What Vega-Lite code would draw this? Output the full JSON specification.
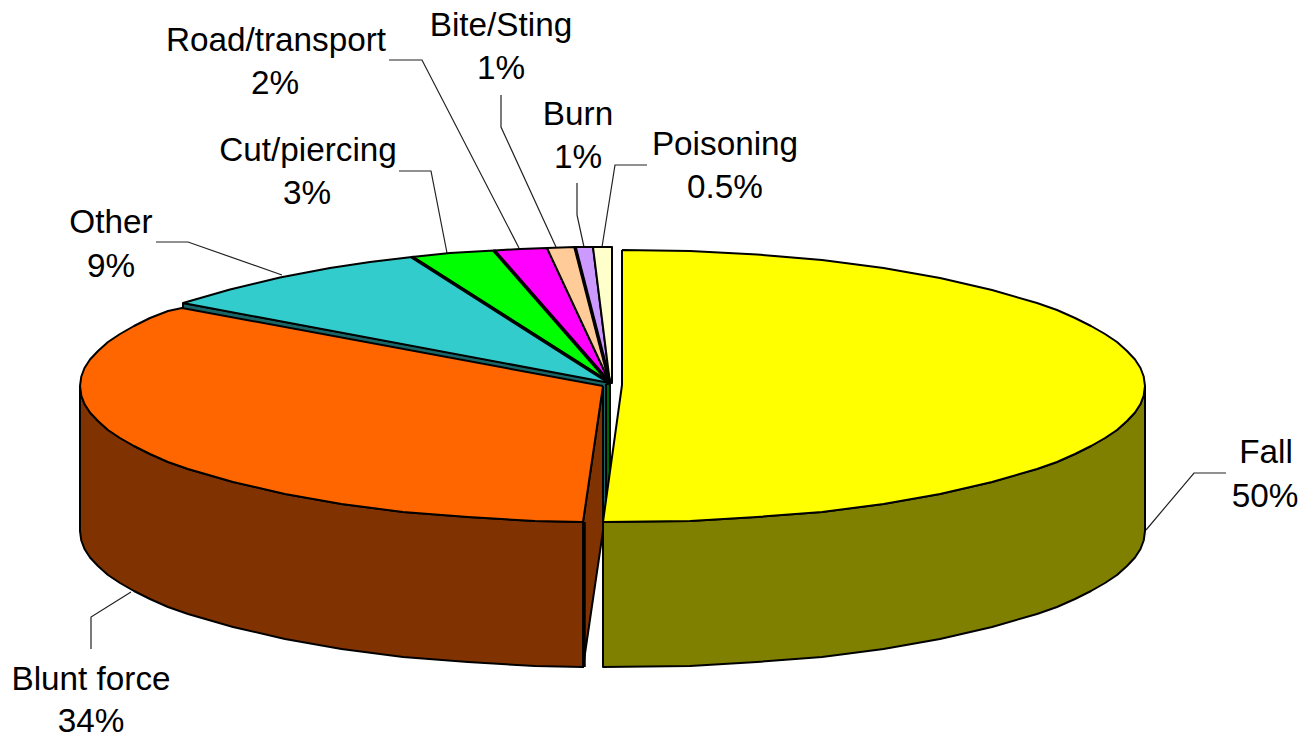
{"$schema":"https://vega.github.io/schema/vega-lite/v6.json","width":1301,"height":735,"padding":0,"autosize":{"type":"none"},"background":"white","view":{"stroke":null},
"datasets":{
"shapes":[
{"part":"teal wall","x":183,"y":303},{"part":"teal wall","x":608,"y":382},{"part":"teal wall","x":608,"y":527},{"part":"teal wall","x":183,"y":448},{"part":"teal wall","x":183,"y":303},
{"part":"green wall","x":606,"y":384},{"part":"green wall","x":610,"y":384},{"part":"green wall","x":610,"y":527},{"part":"green wall","x":606,"y":527},{"part":"green wall","x":606,"y":384},
{"part":"blunt wall","x":80,"y":386},{"part":"blunt wall","x":81.3,"y":395.5},{"part":"blunt wall","x":84.5,"y":404},{"part":"blunt wall","x":90,"y":412.5},{"part":"blunt wall","x":98,"y":421},{"part":"blunt wall","x":108,"y":430},{"part":"blunt wall","x":120,"y":438},{"part":"blunt wall","x":134,"y":446},{"part":"blunt wall","x":150,"y":454},{"part":"blunt wall","x":168,"y":462},{"part":"blunt wall","x":188,"y":469},{"part":"blunt wall","x":233,"y":482},{"part":"blunt wall","x":285,"y":494},{"part":"blunt wall","x":341.5,"y":504},{"part":"blunt wall","x":403,"y":512},{"part":"blunt wall","x":468,"y":517},{"part":"blunt wall","x":535,"y":521},{"part":"blunt wall","x":583,"y":522},{"part":"blunt wall","x":583,"y":667},{"part":"blunt wall","x":535,"y":666},{"part":"blunt wall","x":468,"y":662},{"part":"blunt wall","x":403,"y":657},{"part":"blunt wall","x":341.5,"y":649},{"part":"blunt wall","x":285,"y":639},{"part":"blunt wall","x":233,"y":627},{"part":"blunt wall","x":188,"y":614},{"part":"blunt wall","x":168,"y":607},{"part":"blunt wall","x":150,"y":599},{"part":"blunt wall","x":134,"y":591},{"part":"blunt wall","x":120,"y":583},{"part":"blunt wall","x":108,"y":575},{"part":"blunt wall","x":98,"y":566},{"part":"blunt wall","x":90,"y":557.5},{"part":"blunt wall","x":84.5,"y":549},{"part":"blunt wall","x":81.3,"y":540.5},{"part":"blunt wall","x":80,"y":531},{"part":"blunt wall","x":80,"y":386},
{"part":"blunt cut","x":603,"y":386},{"part":"blunt cut","x":583,"y":522},{"part":"blunt cut","x":583,"y":667},{"part":"blunt cut","x":603,"y":531},{"part":"blunt cut","x":603,"y":386},
{"part":"Blunt force","x":603,"y":386},{"part":"Blunt force","x":583,"y":522},{"part":"Blunt force","x":535,"y":521},{"part":"Blunt force","x":468,"y":517},{"part":"Blunt force","x":403,"y":512},{"part":"Blunt force","x":341.5,"y":504},{"part":"Blunt force","x":285,"y":494},{"part":"Blunt force","x":233,"y":482},{"part":"Blunt force","x":188,"y":469},{"part":"Blunt force","x":168,"y":462},{"part":"Blunt force","x":150,"y":454},{"part":"Blunt force","x":134,"y":446},{"part":"Blunt force","x":120,"y":438},{"part":"Blunt force","x":108,"y":430},{"part":"Blunt force","x":98,"y":421},{"part":"Blunt force","x":90,"y":412.5},{"part":"Blunt force","x":84.5,"y":404},{"part":"Blunt force","x":81.3,"y":395.5},{"part":"Blunt force","x":80,"y":386},{"part":"Blunt force","x":81.3,"y":376.5},{"part":"Blunt force","x":84.5,"y":368},{"part":"Blunt force","x":90,"y":359.5},{"part":"Blunt force","x":98,"y":351},{"part":"Blunt force","x":108,"y":342},{"part":"Blunt force","x":120,"y":334},{"part":"Blunt force","x":134,"y":326},{"part":"Blunt force","x":150,"y":318},{"part":"Blunt force","x":168,"y":311},{"part":"Blunt force","x":182,"y":308},{"part":"Blunt force","x":603,"y":386},
{"part":"Other","x":610,"y":383},{"part":"Other","x":183,"y":303},{"part":"Other","x":230,"y":289.5},{"part":"Other","x":280,"y":277.5},{"part":"Other","x":330,"y":268},{"part":"Other","x":370,"y":262},{"part":"Other","x":412,"y":257},{"part":"Other","x":610,"y":383},
{"part":"Cut/piercing","x":610,"y":383},{"part":"Cut/piercing","x":412,"y":257},{"part":"Cut/piercing","x":450,"y":253},{"part":"Cut/piercing","x":494,"y":250.5},{"part":"Cut/piercing","x":610,"y":383},
{"part":"Road/transport","x":610,"y":383},{"part":"Road/transport","x":494,"y":250.5},{"part":"Road/transport","x":520,"y":249},{"part":"Road/transport","x":547,"y":248},{"part":"Road/transport","x":610,"y":383},
{"part":"Bite/Sting","x":610,"y":383},{"part":"Bite/Sting","x":547,"y":248},{"part":"Bite/Sting","x":575,"y":247},{"part":"Bite/Sting","x":610,"y":383},
{"part":"Burn","x":610,"y":383},{"part":"Burn","x":575,"y":247},{"part":"Burn","x":593,"y":247},{"part":"Burn","x":610,"y":383},
{"part":"Poisoning","x":610,"y":383},{"part":"Poisoning","x":593,"y":247},{"part":"Poisoning","x":612,"y":247},{"part":"Poisoning","x":612,"y":383},{"part":"Poisoning","x":610,"y":383},
{"part":"fall wall","x":1145,"y":386},{"part":"fall wall","x":1143.7,"y":395.5},{"part":"fall wall","x":1140.5,"y":404},{"part":"fall wall","x":1135,"y":412.5},{"part":"fall wall","x":1127,"y":421},{"part":"fall wall","x":1117,"y":430},{"part":"fall wall","x":1105,"y":438},{"part":"fall wall","x":1091,"y":446},{"part":"fall wall","x":1075,"y":454},{"part":"fall wall","x":1057,"y":462},{"part":"fall wall","x":1037,"y":469},{"part":"fall wall","x":992,"y":482},{"part":"fall wall","x":940,"y":494},{"part":"fall wall","x":883.5,"y":504},{"part":"fall wall","x":822,"y":512},{"part":"fall wall","x":757,"y":517},{"part":"fall wall","x":690,"y":521},{"part":"fall wall","x":603,"y":522},{"part":"fall wall","x":603,"y":667},{"part":"fall wall","x":690,"y":666},{"part":"fall wall","x":757,"y":662},{"part":"fall wall","x":822,"y":657},{"part":"fall wall","x":883.5,"y":649},{"part":"fall wall","x":940,"y":639},{"part":"fall wall","x":992,"y":627},{"part":"fall wall","x":1037,"y":614},{"part":"fall wall","x":1057,"y":607},{"part":"fall wall","x":1075,"y":599},{"part":"fall wall","x":1091,"y":591},{"part":"fall wall","x":1105,"y":583},{"part":"fall wall","x":1117,"y":575},{"part":"fall wall","x":1127,"y":566},{"part":"fall wall","x":1135,"y":557.5},{"part":"fall wall","x":1140.5,"y":549},{"part":"fall wall","x":1143.7,"y":540.5},{"part":"fall wall","x":1145,"y":531},{"part":"fall wall","x":1145,"y":386},
{"part":"Fall","x":622,"y":250},{"part":"Fall","x":690,"y":251},{"part":"Fall","x":757,"y":254.5},{"part":"Fall","x":822,"y":260},{"part":"Fall","x":883.5,"y":268},{"part":"Fall","x":940,"y":278},{"part":"Fall","x":992,"y":290},{"part":"Fall","x":1037,"y":303},{"part":"Fall","x":1057,"y":310},{"part":"Fall","x":1075,"y":318},{"part":"Fall","x":1091,"y":326},{"part":"Fall","x":1105,"y":334},{"part":"Fall","x":1117,"y":342},{"part":"Fall","x":1127,"y":351},{"part":"Fall","x":1135,"y":359.5},{"part":"Fall","x":1140.5,"y":368},{"part":"Fall","x":1143.7,"y":376.5},{"part":"Fall","x":1145,"y":386},{"part":"Fall","x":1143.7,"y":395.5},{"part":"Fall","x":1140.5,"y":404},{"part":"Fall","x":1135,"y":412.5},{"part":"Fall","x":1127,"y":421},{"part":"Fall","x":1117,"y":430},{"part":"Fall","x":1105,"y":438},{"part":"Fall","x":1091,"y":446},{"part":"Fall","x":1075,"y":454},{"part":"Fall","x":1057,"y":462},{"part":"Fall","x":1037,"y":469},{"part":"Fall","x":992,"y":482},{"part":"Fall","x":940,"y":494},{"part":"Fall","x":883.5,"y":504},{"part":"Fall","x":822,"y":512},{"part":"Fall","x":757,"y":517},{"part":"Fall","x":690,"y":521},{"part":"Fall","x":603,"y":522},{"part":"Fall","x":622,"y":385},{"part":"Fall","x":622,"y":250}
],
"heavy":[
{"edge":"a","x":412,"y":257},{"edge":"a","x":610,"y":383},
{"edge":"b","x":494,"y":250.5},{"edge":"b","x":610,"y":383},
{"edge":"c","x":575,"y":247},{"edge":"c","x":610,"y":383},
{"edge":"f","x":584,"y":522},{"edge":"f","x":584,"y":667}
],
"leaders":[
{"to":"Fall","x":1146,"y":530},{"to":"Fall","x":1194,"y":473},{"to":"Fall","x":1226,"y":473},
{"to":"Blunt force","x":131,"y":592},{"to":"Blunt force","x":91,"y":617},{"to":"Blunt force","x":91,"y":649},
{"to":"Other","x":156,"y":242},{"to":"Other","x":188,"y":242},{"to":"Other","x":282,"y":275},
{"to":"Cut/piercing","x":399,"y":171},{"to":"Cut/piercing","x":431,"y":171},{"to":"Cut/piercing","x":447,"y":253},
{"to":"Road/transport","x":389,"y":60},{"to":"Road/transport","x":422,"y":60},{"to":"Road/transport","x":519,"y":248},
{"to":"Bite/Sting","x":501,"y":95},{"to":"Bite/Sting","x":501,"y":127},{"to":"Bite/Sting","x":556,"y":247},
{"to":"Burn","x":577,"y":183},{"to":"Burn","x":577,"y":215},{"to":"Burn","x":584,"y":247},
{"to":"Poisoning","x":647,"y":165},{"to":"Poisoning","x":615,"y":165},{"to":"Poisoning","x":602,"y":247}
],
"labels":[
{"t":"Fall","x":1266,"y":453},{"t":"50%","x":1265,"y":497},
{"t":"Blunt force","x":91,"y":680},{"t":"34%","x":91,"y":722},
{"t":"Other","x":111,"y":223},{"t":"9%","x":111,"y":267},
{"t":"Cut/piercing","x":308,"y":151},{"t":"3%","x":307,"y":194},
{"t":"Road/transport","x":276,"y":41},{"t":"2%","x":275,"y":84},
{"t":"Bite/Sting","x":501,"y":26},{"t":"1%","x":501,"y":69},
{"t":"Burn","x":578,"y":115},{"t":"1%","x":578,"y":158},
{"t":"Poisoning","x":725,"y":145},{"t":"0.5%","x":725,"y":188}
]},
"layer":[
{"data":{"name":"leaders"},"mark":{"type":"line","stroke":"#222222","strokeWidth":1.2},"encoding":{"x":{"field":"x","type":"quantitative","scale":{"domain":[0,1301]},"axis":null},"y":{"field":"y","type":"quantitative","scale":{"domain":[735,0]},"axis":null},"detail":{"field":"to"},"order":{"value":null}}},
{"data":{"name":"shapes"},"mark":{"type":"line","stroke":"#000000","strokeWidth":2,"strokeJoin":"round"},"encoding":{"x":{"field":"x","type":"quantitative","scale":{"domain":[0,1301]},"axis":null},"y":{"field":"y","type":"quantitative","scale":{"domain":[735,0]},"axis":null},"detail":{"field":"part"},"fill":{"field":"part","type":"nominal","legend":null,"scale":{"domain":["teal wall","green wall","blunt wall","blunt cut","Blunt force","Other","Cut/piercing","Road/transport","Bite/Sting","Burn","Poisoning","fall wall","Fall"],"range":["#1A6666","#006600","#803300","#803300","#FF6600","#33CCCC","#00FF00","#FF00FF","#FFCC99","#CC99FF","#FFFFCC","#808000","#FFFF00"]}},"order":{"value":null}}},
{"data":{"name":"heavy"},"mark":{"type":"line","stroke":"#000000","strokeWidth":3.5},"encoding":{"x":{"field":"x","type":"quantitative","scale":{"domain":[0,1301]},"axis":null},"y":{"field":"y","type":"quantitative","scale":{"domain":[735,0]},"axis":null},"detail":{"field":"edge"},"order":{"value":null}}},
{"data":{"name":"labels"},"mark":{"type":"text","font":"Liberation Sans","fontSize":33.3,"color":"#000000","align":"center","baseline":"middle"},"encoding":{"x":{"field":"x","type":"quantitative","scale":{"domain":[0,1301]},"axis":null},"y":{"field":"y","type":"quantitative","scale":{"domain":[735,0]},"axis":null},"text":{"field":"t"}}}
]}
